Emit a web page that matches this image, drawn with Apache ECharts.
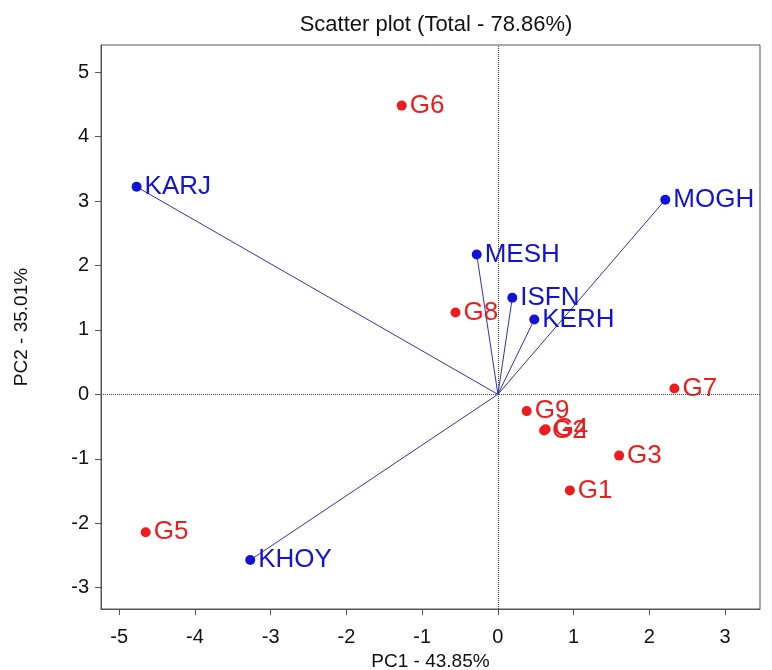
<!DOCTYPE html>
<html>
<head>
<meta charset="utf-8">
<script src="https://cdn.jsdelivr.net/npm/echarts@6/dist/echarts.min.js"></script>
<style>html,body{margin:0;padding:0;background:#fff}#c{width:772px;height:670px}</style>
</head>
<body>
<div id="c"></div>
<script>
// Genotypes (red points)
var genoNames = ['G1','G2','G3','G4','G5','G6','G7','G8','G9'];
var genoPC1   = [0.95, 0.61, 1.60, 0.63, -4.65, -1.27, 2.33, -0.56, 0.38];
var genoPC2   = [-1.49, -0.56, -0.95, -0.54, -2.14, 4.48, 0.09, 1.27, -0.26];
// Environments (blue vectors)
var envNames = ['KARJ','MOGH','MESH','ISFN','KERH','KHOY'];
var envPC1   = [-4.77, 2.21, -0.28, 0.19, 0.48, -3.27];
var envPC2   = [3.22, 3.02, 2.17, 1.50, 1.16, -2.57];
// Tick labels
var xTicks = [-5,-4,-3,-2,-1,0,1,2,3];
var yTicks = [-3,-2,-1,0,1,2,3,4,5];

var font = 'Liberation Sans, Arial, sans-serif';
var red = '#ee1c1c', blue = '#1212d8';

var genoData = genoNames.map(function(n,i){return {name:n, value:[genoPC1[i], genoPC2[i]]};});
var envData = envNames.map(function(n,i){return {name:n, value:[envPC1[i], envPC2[i]]};});
var vecData = envNames.map(function(n,i){return {coords:[[0,0],[envPC1[i], envPC2[i]]]};});

var chart = echarts.init(document.getElementById('c'));
chart.setOption({
  animation:false,
  backgroundColor:'#fff',
  title:{text:'Scatter plot (Total - 78.86%)', left:431, textAlign:'center', top:9,
    textStyle:{fontFamily:font, fontSize:22, fontWeight:'normal', color:'#111'}},
  grid:{left:101, right:12, top:45, bottom:61, show:true, borderColor:'#555', borderWidth:1,
    outerBoundsMode:'none', containLabel:false},
  xAxis:{type:'value', min:-5.24, max:3.46,
    name:'PC1 - 43.85%', nameLocation:'middle', nameGap:41,
    nameTextStyle:{fontFamily:font, fontSize:19, color:'#111'},
    splitLine:{show:false},
    axisLine:{show:true, onZero:false, lineStyle:{color:'#555'}},
    axisTick:{show:true, length:6, customValues:xTicks, lineStyle:{color:'#555'}},
    axisLabel:{customValues:xTicks, fontFamily:font, fontSize:20, color:'#111', margin:18}},
  yAxis:{type:'value', min:-3.33, max:5.42,
    name:'PC2 - 35.01%', nameLocation:'middle', nameGap:70, nameRotate:90,
    nameTextStyle:{fontFamily:font, fontSize:19, color:'#111'},
    splitLine:{show:false},
    axisLine:{show:true, onZero:false, lineStyle:{color:'#555'}},
    axisTick:{show:true, length:6, customValues:yTicks, lineStyle:{color:'#555'}},
    axisLabel:{customValues:yTicks, fontFamily:font, fontSize:20, color:'#111', margin:12}},
  series:[
    {type:'lines', coordinateSystem:'cartesian2d', data:vecData, silent:true,
     lineStyle:{color:'#3030c0', width:1, opacity:1}, symbol:['none','none'], z:2},
    {type:'scatter', data:genoData, symbolSize:10, itemStyle:{color:red, opacity:1}, z:3,
     label:{show:true, position:'right', distance:3, formatter:'{b}', fontFamily:font, fontSize:26, color:red},
     markLine:{silent:true, symbol:['none','none'], label:{show:false},
       lineStyle:{type:'dotted', color:'#444', width:1},
       data:[{xAxis:0},{yAxis:0}]}},
    {type:'scatter', data:envData, symbolSize:10, itemStyle:{color:blue, opacity:1}, z:4,
     label:{show:true, position:'right', distance:3, formatter:'{b}', fontFamily:font, fontSize:26, color:blue}}
  ]
});
</script>
</body>
</html>
